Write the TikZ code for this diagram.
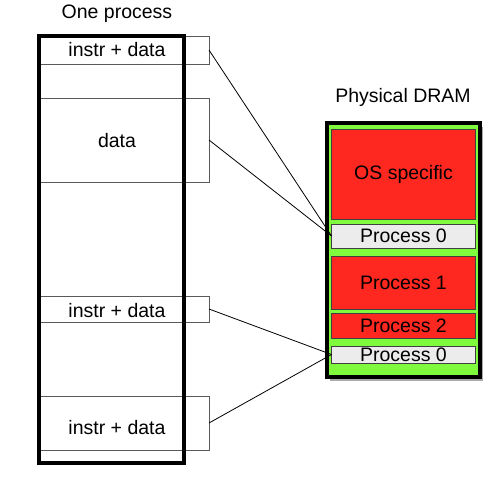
\documentclass[tikz,border=0pt]{standalone}
\usepackage{fontspec}
\setmainfont{Liberation Sans}
\usetikzlibrary{shadows}
\definecolor{dramred}{RGB}{255,40,32}
\definecolor{dramgreen}{RGB}{128,250,60}
\definecolor{dramgray}{RGB}{236,236,236}
\definecolor{segline}{RGB}{90,90,90}
\begin{document}
\begin{tikzpicture}[x=1pt,y=-1pt,
  every node/.style={font=\fontsize{19.5}{22}\selectfont, inner sep=0pt, outer sep=0pt},
  seg/.style={draw=segline, line width=0.9pt, fill=none},
  blk/.style={draw=black!75, line width=0.8pt},
  link/.style={draw=black, line width=0.8pt}]
\useasboundingbox (0,0) rectangle (490,483);
% left process segments
\node[seg, minimum width=170pt, minimum height=28pt] (s1) at (124,50) {};
\node[seg, minimum width=170pt, minimum height=84pt] (s2) at (124,140) {};
\node[seg, minimum width=170pt, minimum height=26pt] (s3) at (124,309) {};
\node[seg, minimum width=170pt, minimum height=54pt] (s4) at (124,423) {};
\node[draw=black, line width=3.6pt, minimum width=145pt, minimum height=427pt] (proc) at (111.5,249.5) {};
\node (l1) at (117,50) {instr + data};
\node (l2) at (117,141) {data};
\node (l3) at (117,311) {instr + data};
\node (l4) at (117,428) {instr + data};
\node (t1) at (117,14) {One process};
% DRAM
\node (t2) at (403,97) {Physical DRAM};
\node[draw=black, line width=3.4pt, fill=dramgreen, minimum width=153pt, minimum height=254pt,
  drop shadow={shadow xshift=2.5pt, shadow yshift=-3.5pt, opacity=0.55, fill=black!60}] (dram) at (403.5,250) {};
\node[blk, fill=dramred, minimum width=144pt, minimum height=90pt] (os) at (403.5,174) {OS specific};
\node[blk, fill=dramgray, minimum width=144pt, minimum height=24pt] (p0a) at (403.5,236) {Process 0};
\node[blk, fill=dramred, minimum width=144pt, minimum height=53pt] (p1) at (403.5,282.5) {Process 1};
\node[blk, fill=dramred, minimum width=144pt, minimum height=25pt] (p2) at (403.5,325.5) {Process 2};
\node[blk, fill=dramgray, minimum width=144pt, minimum height=17pt] (p0b) at (403.5,354.5) {Process 0};
% connectors
\draw[link] (s1.east) -- (p0a.west);
\draw[link] (s2.east) -- (p0a.west);
\draw[link] (s3.east) -- (p0b.west);
\draw[link] (s4.east) -- (p0b.west);
\end{tikzpicture}
\end{document}
